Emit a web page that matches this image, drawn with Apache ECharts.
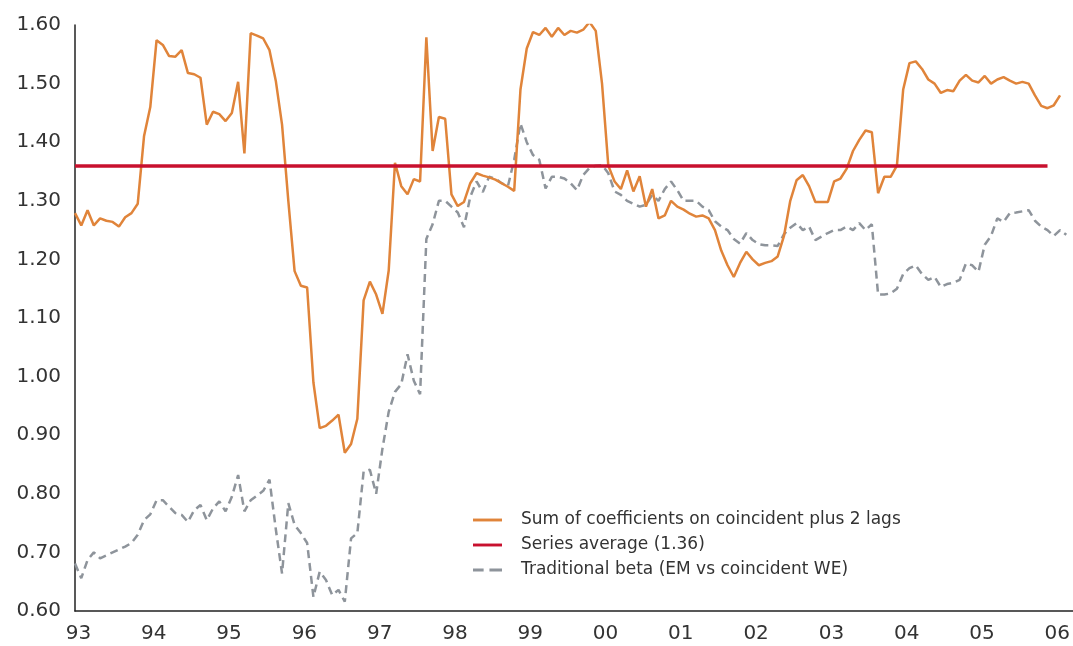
<!DOCTYPE html>
<html>
<head>
<meta charset="utf-8">
<script src="https://cdn.jsdelivr.net/npm/echarts@6/dist/echarts.min.js"></script>
<style>
html,body{margin:0;padding:0;background:#fff;}
#chart{width:1073px;height:646px;}
</style>
</head>
<body>
<div id="chart"></div>
<script>
// Monthly observations starting January 1993
const startYear = 1993;
const monthCount = 160;

const seriesNames = [
  'Sum of coefficients on coincident plus 2 lags',
  'Series average (1.36)',
  'Traditional beta (EM vs coincident WE)'
];

const sumCoefficients = [
  1.279,1.258,1.284,1.258,1.270,1.266,1.264,1.256,1.272,1.279,
  1.295,1.41,1.46,1.574,1.566,1.547,1.546,1.557,1.518,1.516,
  1.510,1.430,1.452,1.448,1.436,1.450,1.503,1.381,1.586,1.582,
  1.577,1.557,1.505,1.43,1.30,1.18,1.155,1.152,0.99,0.912,
  0.916,0.925,0.935,0.870,0.885,0.928,1.13,1.162,1.14,1.107,
  1.181,1.365,1.325,1.311,1.337,1.333,1.579,1.385,1.443,1.440,
  1.311,1.291,1.298,1.33,1.347,1.343,1.340,1.336,1.330,1.324,
  1.317,1.49,1.56,1.588,1.583,1.595,1.58,1.595,1.583,1.590,
  1.587,1.592,1.605,1.59,1.50,1.36,1.333,1.32,1.352,1.316,
  1.342,1.29,1.32,1.27,1.275,1.30,1.29,1.285,1.278,1.273,
  1.275,1.27,1.25,1.215,1.19,1.17,1.194,1.213,1.20,1.19,
  1.194,1.197,1.205,1.24,1.30,1.335,1.344,1.325,1.298,1.298,
  1.298,1.333,1.338,1.355,1.385,1.404,1.42,1.417,1.313,1.341,
  1.341,1.36,1.49,1.535,1.538,1.525,1.507,1.50,1.484,1.489,
  1.487,1.505,1.515,1.505,1.502,1.513,1.50,1.507,1.511,1.505,
  1.50,1.503,1.50,1.48,1.462,1.458,1.463,1.48
];

const traditionalBeta = [
  0.681,0.656,0.687,0.70,0.69,0.695,0.70,0.705,0.71,0.716,
  0.73,0.755,0.765,0.789,0.789,0.778,0.767,0.764,0.752,0.772,
  0.781,0.755,0.775,0.787,0.77,0.795,0.832,0.77,0.789,0.797,
  0.805,0.824,0.74,0.664,0.784,0.747,0.733,0.716,0.624,0.667,
  0.653,0.627,0.636,0.616,0.724,0.733,0.838,0.841,0.80,0.877,
  0.94,0.974,0.987,1.038,0.993,0.97,1.235,1.26,1.30,1.30,
  1.29,1.28,1.255,1.307,1.333,1.315,1.341,1.338,1.33,1.325,
  1.37,1.432,1.40,1.378,1.37,1.321,1.341,1.341,1.338,1.33,
  1.318,1.344,1.356,1.36,1.361,1.347,1.316,1.31,1.30,1.295,
  1.29,1.293,1.31,1.30,1.32,1.333,1.318,1.30,1.30,1.30,
  1.29,1.284,1.265,1.256,1.25,1.235,1.227,1.245,1.233,1.226,
  1.224,1.224,1.223,1.243,1.254,1.262,1.25,1.256,1.233,1.239,
  1.245,1.25,1.25,1.256,1.25,1.262,1.25,1.26,1.14,1.14,
  1.142,1.15,1.175,1.185,1.19,1.175,1.165,1.17,1.153,1.158,
  1.16,1.165,1.193,1.19,1.179,1.225,1.24,1.27,1.264,1.279,
  1.28,1.282,1.284,1.266,1.256,1.25,1.24,1.25,1.242
];

const seriesAverage = 1.36;
const averageStart = '1993-01';
const averageEnd = '2005-12';

const yTicks = { min: 0.6, max: 1.6, step: 0.1 };

// category labels (months)
const months = [];
for (let k = 0; k < monthCount; k++) {
  const y = startYear + Math.floor(k / 12);
  const m = (k % 12) + 1;
  months.push(y + '-' + (m < 10 ? '0' + m : '' + m));
}

const ORANGE = '#E0843A';
const RED = '#C8102E';
const GREY = '#8E949B';
const TEXT = '#333333';
const FONT = 'DejaVu Sans';

const SOLID_ICON = 'path://M0,0H30V3H0Z';
const DASH_ICON = 'path://M0,0H11V3H0Z M17,0H30V3H17Z';

const chart = echarts.init(document.getElementById('chart'), null, { renderer: 'canvas' });
chart.setOption({
  animation: false,
  backgroundColor: '#ffffff',
  grid: { left: 75, right: 0, top: 25, bottom: 35, containLabel: false },
  legend: {
    orient: 'vertical',
    left: 473,
    top: 511,
    padding: 0,
    itemWidth: 29,
    itemHeight: 3,
    itemGap: 7,
    data: [
      { name: seriesNames[0], icon: SOLID_ICON },
      { name: seriesNames[1], icon: SOLID_ICON },
      { name: seriesNames[2], icon: DASH_ICON }
    ],
    textStyle: { color: TEXT, fontFamily: FONT, fontSize: 17, lineHeight: 18, padding: [0, 0, 0, 14] }
  },
  xAxis: {
    type: 'category',
    data: months,
    boundaryGap: false,
    axisLine: { show: true, lineStyle: { color: '#222', width: 1.5 } },
    axisTick: { show: false },
    splitLine: { show: false },
    axisLabel: {
      interval: function (index, value) { return value.slice(5) === '01'; },
      formatter: function (value) { return value.slice(2, 4); },
      color: TEXT, fontFamily: FONT, fontSize: 20, margin: 13,
      padding: [0, 0, 0, 7]
    }
  },
  yAxis: {
    type: 'value',
    min: yTicks.min,
    max: yTicks.max,
    interval: yTicks.step,
    axisLine: { show: true, lineStyle: { color: '#222', width: 1.5 } },
    axisTick: { show: false },
    splitLine: { show: false },
    axisLabel: {
      formatter: function (v) { return v.toFixed(2); },
      color: TEXT, fontFamily: FONT, fontSize: 20, margin: 14
    }
  },
  series: [
    {
      name: seriesNames[0],
      type: 'line',
      data: sumCoefficients,
      symbol: 'none',
      color: ORANGE,
      itemStyle: { color: ORANGE },
      lineStyle: { color: ORANGE, width: 2.5 },
      z: 3
    },
    {
      name: seriesNames[1],
      type: 'line',
      data: [],
      symbol: 'none',
      color: RED,
      itemStyle: { color: RED },
      lineStyle: { color: RED, width: 3.5 },
      z: 4,
      markLine: {
        silent: true,
        symbol: 'none',
        label: { show: false },
        lineStyle: { color: RED, width: 3.5, type: 'solid' },
        data: [[{ coord: [averageStart, seriesAverage] }, { coord: [averageEnd, seriesAverage] }]]
      }
    },
    {
      name: seriesNames[2],
      type: 'line',
      data: traditionalBeta,
      symbol: 'none',
      color: GREY,
      itemStyle: { color: GREY },
      lineStyle: { color: GREY, width: 2.5, type: [8, 5] },
      z: 2
    }
  ]
});
</script>
</body>
</html>
